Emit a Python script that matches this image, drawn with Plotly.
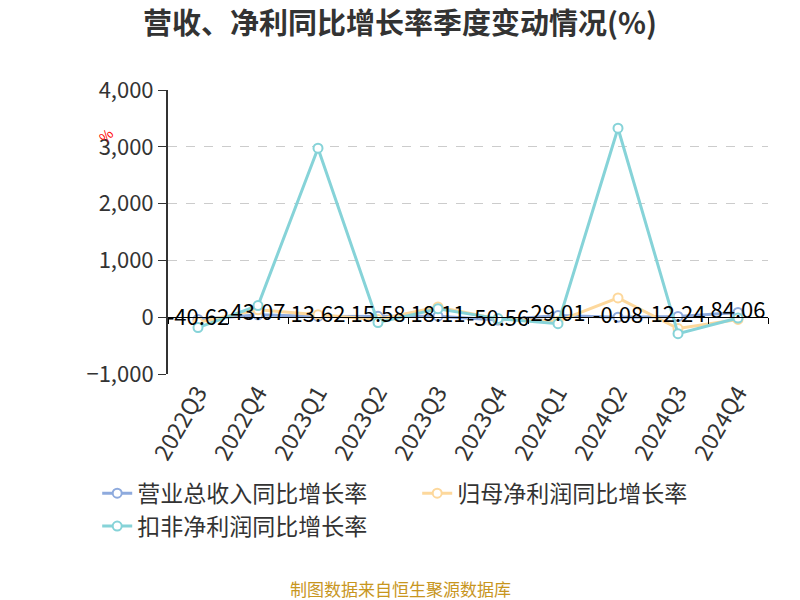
import plotly.graph_objects as go

categories = ["2022Q3", "2022Q4", "2023Q1", "2023Q2", "2023Q3", "2023Q4", "2024Q1", "2024Q2", "2024Q3", "2024Q4"]
revenue_yoy = [-40.62, 43.07, 13.62, 15.58, 18.11, -50.56, 29.01, -0.08, 12.24, 84.06]
netprofit_yoy = [-90, 130, 45, -40, 180, -30, -70, 340, -200, -40]
deducted_yoy = [-183, 205, 2975, -95, 150, -25, -115, 3327, -290, -15]
y_ticks = [-1000, 0, 1000, 2000, 3000, 4000]

FONT = "Noto Sans CJK SC"
blue = "#8eaadd"
orange = "#fdd89c"
cyan = "#86d3d8"

fig = go.Figure()

def add_series(name, vals, color):
    fig.add_trace(go.Scatter(
        x=categories, y=vals, name=name, mode="lines+markers",
        line=dict(color=color, width=3),
        marker=dict(size=9, color="white", line=dict(color=color, width=2)),
    ))

add_series("营业总收入同比增长率", revenue_yoy, blue)
add_series("归母净利润同比增长率", netprofit_yoy, orange)
add_series("扣非净利润同比增长率", deducted_yoy, cyan)

fig.add_trace(go.Scatter(
    x=categories, y=revenue_yoy, mode="text",
    text=[f"{v:.2f}" for v in revenue_yoy],
    textposition="middle center",
    textfont=dict(color="#000000", size=22, family=FONT),
    showlegend=False, hoverinfo="skip",
))

# invisible trace to carry zero-line axis
fig.add_trace(go.Scatter(
    x=categories, y=[0] * len(categories), xaxis="x2", mode="lines",
    line=dict(width=0), showlegend=False, hoverinfo="skip",
))

fig.update_layout(
    width=800, height=600,
    paper_bgcolor="white", plot_bgcolor="white",
    margin=dict(l=168, r=32, t=90, b=226, autoexpand=False),
    font=dict(family=FONT, color="#333333"),
    title=dict(text="<b>营收、净利同比增长率季度变动情况(%)</b>",
               x=0.5, xanchor="center", y=0.96, yanchor="middle",
               font=dict(size=29, color="#333333", family=FONT)),
    xaxis=dict(
        type="category", range=[-0.5, 9.5], automargin=False,
        showline=False, showgrid=False, zeroline=False, ticks="",
        tickangle=-60, tickfont=dict(size=23, color="#333333", family=FONT),
    ),
    xaxis2=dict(
        type="category", range=[-0.5, 9.5], overlaying="x", anchor="free", position=0.2,
        showline=True, linecolor="#000000", linewidth=1,
        ticks="outside", ticklen=6, tickcolor="#000000", tickson="boundaries",
        showticklabels=False, showgrid=False, zeroline=False,
    ),
    yaxis=dict(
        range=[-1000, 4000], tickvals=y_ticks, tickformat=",", automargin=False,
        showline=True, linecolor="#333333", linewidth=2,
        ticks="outside", ticklen=8, tickcolor="#333333",
        showgrid=True, gridcolor="#cccccc", griddash="dash", gridwidth=1,
        zeroline=False,
        tickfont=dict(size=22, color="#333333", family=FONT),
    ),
    legend=dict(
        orientation="h", x=-0.118, xanchor="left", y=-0.344, yanchor="top",
        entrywidth=275, entrywidthmode="pixels",
        font=dict(size=23, color="#333333", family=FONT),
    ),
    annotations=[
        dict(text="%", xref="paper", yref="paper", x=-0.128, y=0.893, showarrow=False,
             textangle=-45, font=dict(size=14, color="red", family=FONT)),
        dict(text="制图数据来自恒生聚源数据库", xref="paper", yref="paper",
             x=0.387, xanchor="center", y=-0.755, yanchor="middle", showarrow=False,
             font=dict(size=17, color="#c8961e", family=FONT)),
    ],
)

fig.write_html("out.html", config={"displayModeBar": False},
               post_script="document.body.style.margin='0';")
